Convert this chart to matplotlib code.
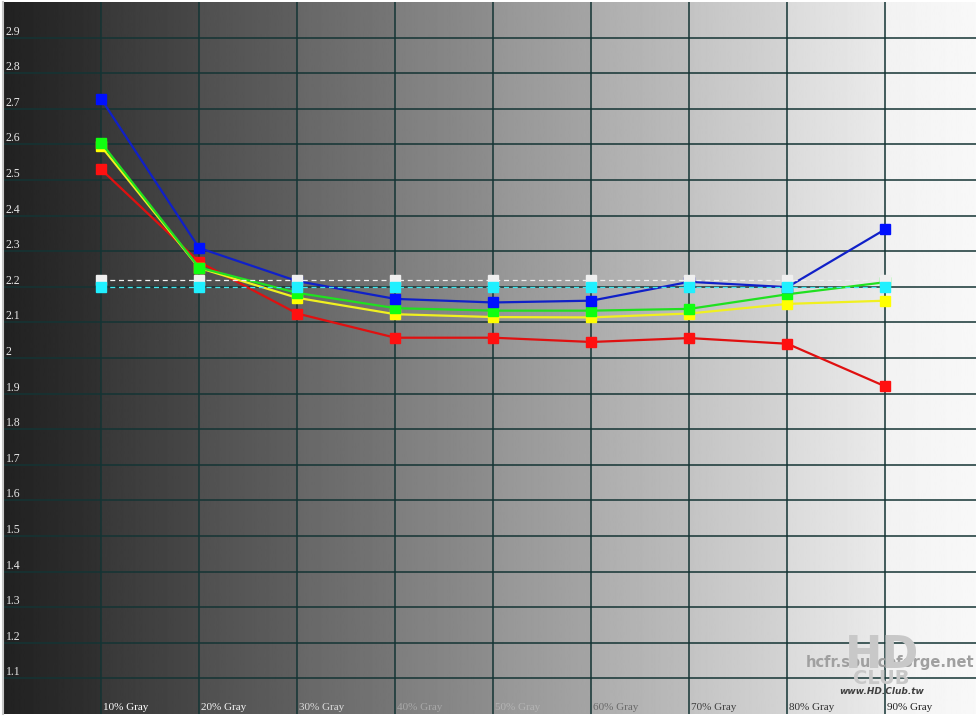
import numpy as np
import matplotlib
matplotlib.use("Agg")
import matplotlib.pyplot as plt

# gray level steps (10% .. 90%) and measured gamma per channel
gray_steps = [1, 2, 3, 4, 5, 6, 7, 8, 9]
x_labels = ["10% Gray", "20% Gray", "30% Gray", "40% Gray", "50% Gray",
            "60% Gray", "70% Gray", "80% Gray", "90% Gray"]

gamma_red = [2.53, 2.27, 2.125, 2.057, 2.057, 2.045, 2.056, 2.04, 1.92]
gamma_yellow = [2.595, 2.253, 2.169, 2.123, 2.115, 2.114, 2.125, 2.152, 2.161]
gamma_green = [2.605, 2.254, 2.183, 2.14, 2.133, 2.133, 2.138, 2.179, 2.213]
gamma_blue = [2.728, 2.309, 2.216, 2.166, 2.156, 2.161, 2.214, 2.199, 2.362]

target_white = [2.22] * 9
target_cyan = [2.20] * 9

y_ticks = [1.1, 1.2, 1.3, 1.4, 1.5, 1.6, 1.7, 1.8, 1.9, 2.0,
           2.1, 2.2, 2.3, 2.4, 2.5, 2.6, 2.7, 2.8, 2.9]
y_tick_labels = ["1.1", "1.2", "1.3", "1.4", "1.5", "1.6", "1.7", "1.8", "1.9", "2",
                 "2.1", "2.2", "2.3", "2.4", "2.5", "2.6", "2.7", "2.8", "2.9"]

W, H = 976, 717
fig = plt.figure(figsize=(W / 100, H / 100), dpi=100)
fig.patch.set_facecolor("white")
ax = fig.add_axes([3 / W, 3 / H, 1 - 3 / W, 712 / H])

# stepped gray background, each column a small gradient
cols = []
for i in range(10):
    start = 0.13 + i * 0.091
    cols.append(np.linspace(start, min(start + 0.06, 0.975), 100))
bg = np.concatenate(cols)[np.newaxis, :]
ax.imshow(bg, cmap="gray", vmin=0, vmax=1, aspect="auto",
          extent=(0, 10, 1.0, 3.0), origin="lower", zorder=0)

ax.set_xlim(0, 9.923)
ax.set_ylim(1.0, 3.0)

grid_col = "#143434"
for v in y_ticks:
    ax.axhline(v, color=grid_col, lw=1.1, zorder=1)
for g in gray_steps:
    ax.axvline(g, color=grid_col, lw=1.1, zorder=1)

for s in ["top", "right", "bottom"]:
    ax.spines[s].set_visible(False)
ax.spines["left"].set_color("#c8c8c8")
ax.spines["left"].set_linewidth(1.5)
ax.set_xticks([])
ax.set_yticks([])

# tick labels drawn inside the plot
for v, lab in zip(y_ticks, y_tick_labels):
    ax.text(0.03, v + 0.017, lab, fontsize=8.5, family="Liberation Serif",
            color="#e8e8e8", ha="left", va="center", zorder=2)

label_colors = ["#ffffff", "#f4f4f4", "#dcdcdc", "#a8a8a8", "#b4b4b4",
                "#6a6a6a", "#404040", "#303030", "#202020"]
for g, lab, c in zip(gray_steps, x_labels, label_colors):
    ax.text(g + 0.02, 1.0 + 6 / 356, lab, fontsize=8, family="Liberation Serif",
            color=c, ha="left", va="center", zorder=2)

# watermark
ax.text(9.905, 1.0 + 51 / 356, "hcfr.sourceforge.net", fontsize=10.5, fontweight="bold",
        family="DejaVu Sans", color="#a0a0a0", ha="right", va="center", zorder=2)
ax.text(8.96, 1.0 + 59 / 356, "HD", fontsize=32, fontweight="bold", family="DejaVu Sans",
        color="#c8c8c8", ha="center", va="center", zorder=2)
ax.text(8.96, 1.0 + 35 / 356, "CLUB", fontsize=14, fontweight="bold", family="DejaVu Sans",
        color="#c8c8c8", ha="center", va="center", zorder=2)
ax.text(8.96, 1.0 + 22 / 356, "www.HD.Club.tw", fontsize=6.5, fontweight="bold", style="italic",
        family="DejaVu Sans", color="#404040", ha="center", va="center", zorder=2)

# measured channels
mk = dict(marker="s", markersize=6.5, lw=1.6)
ax.plot(gray_steps, gamma_red, color="#e01010", mfc="#ff1010", mec="#ff1010", zorder=3, **mk)
ax.plot(gray_steps, gamma_yellow, color="#f0f020", mfc="#ffff00", mec="#ffff00", zorder=4, **mk)
ax.plot(gray_steps, gamma_green, color="#20e020", mfc="#10ff10", mec="#10ff10", zorder=5, **mk)
ax.plot(gray_steps, gamma_blue, color="#1020c8", mfc="#0010ff", mec="#0010ff", zorder=6, **mk)

# target references
ax.plot(gray_steps, target_white, color="#f0f0f0", lw=0.9, ls=(0, (4, 3)),
        marker="s", markersize=6.5, mfc="#f0f0f0", mec="#f0f0f0", zorder=7)
ax.plot(gray_steps, target_cyan, color="#40e8f0", lw=0.9, ls=(0, (4, 3)),
        marker="s", markersize=6.5, mfc="#20f0ff", mec="#20f0ff", zorder=8)

fig.savefig("out.png", dpi=100, facecolor=fig.get_facecolor())
